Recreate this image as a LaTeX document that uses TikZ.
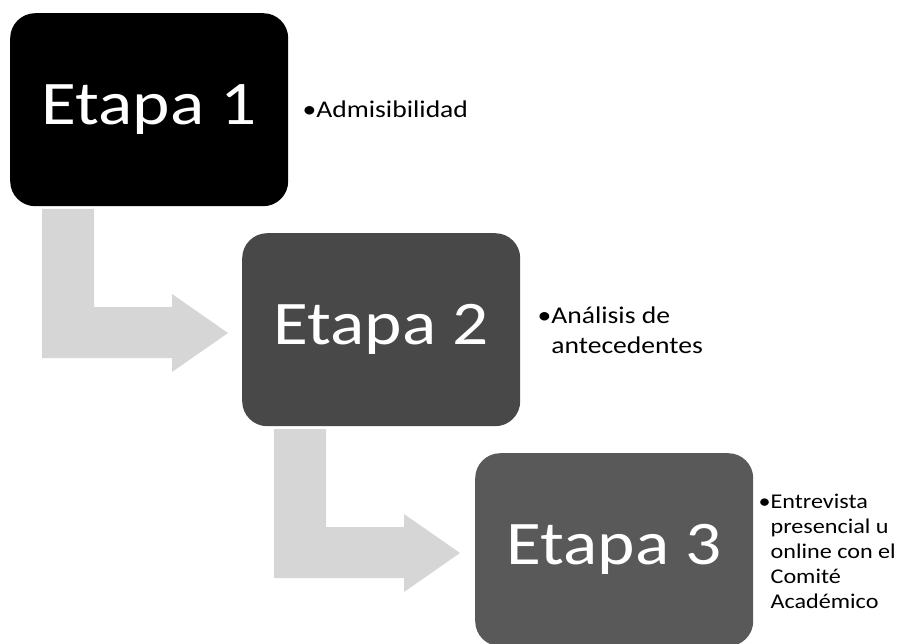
\documentclass[tikz,border=0pt]{standalone}
\usepackage{fontspec}
\setmainfont{Carlito}
\usepackage{graphicx}
\usepackage{tikz}
\usetikzlibrary{positioning}
\usetikzlibrary{calc}

\definecolor{gris1}{HTML}{484848}
\definecolor{gris2}{HTML}{595959}
\definecolor{flecha}{HTML}{D6D6D6}

% the text is set a little wider than the font
\newcommand{\ancho}[1]{\scalebox{1.15}[1]{#1}}

\begin{document}
\begin{tikzpicture}[x=1pt, y=-1pt]

\tikzset{%
    every etapa/.style = {
        rounded corners=25pt,
        minimum width=278pt,
        minimum height=193pt,
        anchor=north west,
        text=white,
        font=\fontsize{62}{74}\selectfont
    },
    etapa 1/.style = {fill=black},
    etapa 2/.style = {fill=gris1},
    etapa 3/.style = {fill=gris2},
    every nota/.style = {
        anchor=west,
        inner sep=0pt,
        font=\fontsize{24}{30}\selectfont
    },
    nota 3/.style = {font=\fontsize{21}{25}\selectfont}
}

\useasboundingbox (0,0) rectangle (901,644);

% arrows first, boxes on top
\foreach \m/\x/\y in {1/10/13, 2/242/233, 3/475/453}
  \path (\x,\y) coordinate (sitio-\m);

\foreach \i in {1,2}
  \fill [flecha] ($(sitio-\i)+(32,196)$) -- ++(52,0) -- ++(0,98) -- ++(78,0)
    -- ++(0,-13) -- ++(56,39) -- ++(-56,39) -- ++(0,-14) -- ++(-130,0) -- cycle;

\foreach \m in {1,2,3}
  \node [every etapa/.try, etapa \m/.try] (etapa-\m) at (sitio-\m) {\ancho{Etapa \m}};

\node [every nota/.try] (nota-1) at ($(etapa-1.east)+(14,2)$)
  {\ancho{\begin{tabular}{@{}l@{}l@{}}\textbullet & Admisibilidad\end{tabular}}};

\node [every nota/.try] (nota-2) at ($(etapa-2.east)+(17,3)$)
  {\ancho{\begin{tabular}{@{}l@{}l@{}}\textbullet & Análisis de\\ & antecedentes\end{tabular}}};

\node [every nota/.try, nota 3/.try] (nota-3) at ($(etapa-3.east)+(5,4)$)
  {\ancho{\begin{tabular}{@{}l@{}l@{}}\textbullet & Entrevista\\ & presencial u\\ & online con el\\ & Comité\\ & Académico\end{tabular}}};

\end{tikzpicture}
\end{document}
